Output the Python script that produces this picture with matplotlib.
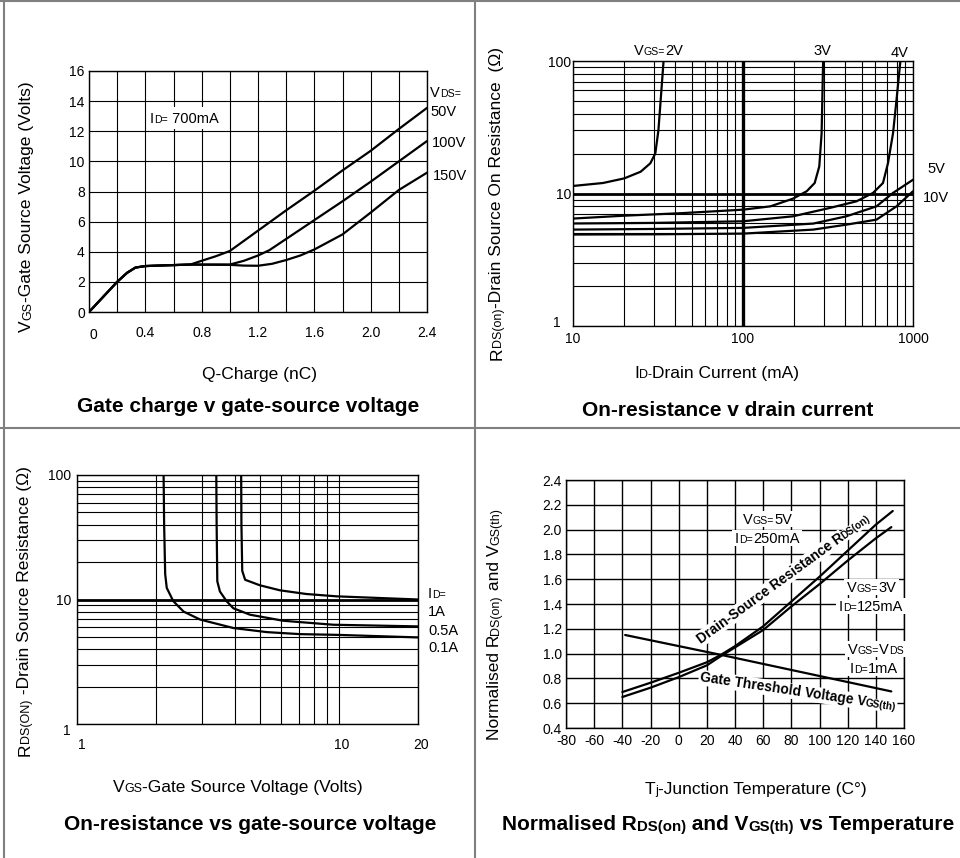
import numpy as np
import matplotlib
matplotlib.use('Agg')
import matplotlib.pyplot as plt
from matplotlib.lines import Line2D
from matplotlib.patches import Rectangle
from matplotlib.ticker import MultipleLocator, LogLocator, NullFormatter, FormatStrFormatter

plt.rcParams['font.family'] = ['Liberation Sans', 'DejaVu Sans']
plt.rcParams['axes.unicode_minus'] = False

# ---------------- data ----------------
# gate charge v gate-source voltage, ID = 700mA
q_50 = [0, 0.1, 0.2, 0.27, 0.33, 0.4, 0.55, 0.72, 0.8, 0.9, 1.0, 1.2, 1.4, 1.6, 1.8, 2.0, 2.2, 2.4]
v_50 = [0, 1.0, 2.0, 2.6, 2.95, 3.05, 3.1, 3.15, 3.4, 3.7, 4.05, 5.4, 6.75, 8.05, 9.4, 10.7, 12.15, 13.55]
q_100 = [0, 0.1, 0.2, 0.27, 0.33, 0.4, 0.55, 0.72, 1.0, 1.1, 1.2, 1.28, 1.4, 1.6, 1.8, 2.0, 2.2, 2.4]
v_100 = [0, 1.0, 2.0, 2.6, 2.95, 3.05, 3.1, 3.15, 3.15, 3.4, 3.75, 4.1, 4.85, 6.1, 7.35, 8.65, 10.0, 11.35]
q_150 = [0, 0.1, 0.2, 0.27, 0.33, 0.4, 0.55, 0.72, 1.0, 1.1, 1.2, 1.3, 1.4, 1.5, 1.6, 1.8, 2.0, 2.2, 2.4]
v_150 = [0, 1.0, 2.0, 2.6, 2.95, 3.05, 3.1, 3.15, 3.13, 3.08, 3.07, 3.2, 3.45, 3.75, 4.15, 5.15, 6.6, 8.1, 9.25]
vds_labels = ['50V', '100V', '150V']

# on-resistance v drain current (mA, ohm)
id_2v = [10, 15, 20, 25, 28.5, 30.5, 31.8, 32.8, 34.1]
r_2v = [11.4, 12.0, 13.0, 14.6, 16.9, 20.1, 30, 51, 100]
id_3v = [10, 20, 43, 100, 145, 197, 237, 264, 281, 290, 296]
r_3v = [6.47, 6.8, 7.1, 7.55, 8.0, 9.15, 10.4, 12.0, 16, 28.5, 100]
id_4v = [10, 30, 100, 197, 324, 465, 582, 666, 713, 763, 800, 843]
r_4v = [5.94, 6.0, 6.17, 6.73, 7.78, 8.73, 10.1, 12.0, 17, 28.5, 51, 100]
id_5v = [10, 30, 100, 259, 406, 610, 763, 1000]
r_5v = [5.34, 5.4, 5.5, 5.93, 6.73, 8.0, 10.1, 12.7]
id_10v = [10, 30, 100, 259, 406, 610, 800, 1000]
r_10v = [4.9, 4.92, 4.98, 5.34, 5.82, 6.35, 8.0, 10.4]

# on-resistance vs gate-source voltage (V, ohm)
vgs_01 = [2.14, 2.15, 2.17, 2.2, 2.33, 2.55, 2.95, 3.95, 5.3, 7.1, 9.8, 20]
r_01 = [100, 40, 16, 12.4, 9.7, 8.0, 6.9, 5.9, 5.47, 5.27, 5.2, 4.96]
vgs_05 = [3.40, 3.41, 3.43, 3.51, 3.72, 3.95, 4.57, 6.12, 9.5, 20]
r_05 = [100, 40, 14, 11.6, 9.7, 8.5, 7.55, 6.75, 6.27, 6.08]
vgs_1 = [4.23, 4.24, 4.27, 4.38, 4.99, 5.95, 7.5, 9.8, 20]
r_1 = [100, 40, 17, 14.4, 13.0, 11.85, 11.07, 10.6, 10.0]
id_labels = ['1A', '0.5A', '0.1A']

# normalised RDS(on) and VGS(th) vs temperature
t_rds5 = [-40, -20, 0, 20, 30, 40, 60, 80, 100, 120, 140, 152]
n_rds5 = [0.69, 0.765, 0.845, 0.93, 0.99, 1.06, 1.22, 1.42, 1.62, 1.83, 2.04, 2.15]
t_rds3 = [-40, -20, 0, 20, 30, 40, 60, 80, 100, 120, 140, 151]
n_rds3 = [0.65, 0.725, 0.81, 0.905, 0.98, 1.05, 1.19, 1.38, 1.56, 1.75, 1.93, 2.02]
t_vth = [-38, 30, 151]
n_vth = [1.15, 0.99, 0.695]

# ---------------- figure ----------------
W, H = 960, 858
fig = plt.figure(figsize=(W / 100, H / 100), dpi=100)
renderer = fig.canvas.get_renderer()
S = 0.72  # size of the small "subscript" letters


def text_width(s, size, weight):
    # advance width of s in pixels (X..X trick keeps spaces)
    t1 = fig.text(0, 0, 'X' + s + 'X', fontsize=size, fontweight=weight)
    t2 = fig.text(0, 0, 'XX', fontsize=size, fontweight=weight)
    w = t1.get_window_extent(renderer).width - t2.get_window_extent(renderer).width
    t1.remove()
    t2.remove()
    return w


def rich(x, y, parts, size, weight='normal', rot=0, ha='left', bg=False):
    # x, y in pixels from top-left; y is the middle of the capitals
    widths = [text_width(s, size * k, weight) for s, k in parts]
    total = sum(widths)
    a = np.radians(rot)
    ux, uy = np.cos(a), np.sin(a)
    nx, ny = -np.sin(a), np.cos(a)
    half_cap = 0.72 * size * 100 / 72 / 2
    X, Y = x, H - y
    if ha == 'center':
        X -= ux * total / 2
        Y -= uy * total / 2
    elif ha == 'right':
        X -= ux * total
        Y -= uy * total
    x0 = X
    X -= nx * half_cap
    Y -= ny * half_cap
    box = dict(facecolor='white', edgecolor='none', pad=0.6) if bg else None
    for (s, k), w in zip(parts, widths):
        fig.text(X / W, Y / H, s, fontsize=size * k, fontweight=weight, rotation=rot,
                 rotation_mode='anchor', ha='left', va='baseline', bbox=box, zorder=3)
        X += ux * w
        Y += uy * w
    return x0, x0 + total


def white_box(x0, x1, y, h=8):
    fig.add_artist(Rectangle(((x0 - 3) / W, (H - y - h) / H), (x1 - x0 + 6) / W, 2 * h / H,
                             facecolor='white', edgecolor='none', transform=fig.transFigure, zorder=1))


def make_axes(l, t, r, b):
    ax = fig.add_axes([l / W, (H - b) / H, (r - l) / W, (b - t) / H])
    ax.set_axisbelow(True)
    ax.tick_params(which='both', length=0, labelsize=10)
    for sp in ax.spines.values():
        sp.set_linewidth(1.0)
    return ax


grid_kw = dict(color='black', linewidth=0.8)
curve_kw = dict(color='black', linewidth=1.6, solid_joinstyle='round', solid_capstyle='round')

# ---- panel 1: gate charge
ax1 = make_axes(89, 71, 427, 312)
ax1.set_xlim(0, 2.4)
ax1.set_ylim(0, 16)
ax1.xaxis.set_minor_locator(MultipleLocator(0.2))
ax1.yaxis.set_major_locator(MultipleLocator(2))
ax1.set_xticks([0, 0.4, 0.8, 1.2, 1.6, 2.0, 2.4], ['', '0.4', '0.8', '1.2', '1.6', '2.0', '2.4'])
ax1.grid(which='both', **grid_kw)
ax1.tick_params(axis='x', pad=10)
ax1.tick_params(axis='y', pad=3)
ax1.plot(q_50, v_50, **curve_kw)
ax1.plot(q_100, v_100, **curve_kw)
ax1.plot(q_150, v_150, **curve_kw)
rich(93, 334, [('0', 1)], 10, ha='center')

x0, x1 = rich(150, 118, [('I', 1), ('D=', S), (' 700mA', 1)], 10.5)
white_box(x0, x1, 118, 11)
rich(430, 92, [('V', 1), ('DS=', S)], 10.5)
for lab, (lx, ly) in zip(vds_labels, [(430, 111), (432, 142), (433, 175)]):
    rich(lx, ly, [(lab, 1)], 10.5)
rich(25, 207, [('V', 1), ('GS', S), ('-Gate Source Voltage (Volts)', 1)], 12.5, rot=90, ha='center')
rich(259, 373, [('Q-Charge (nC)', 1)], 12.5, ha='center')
rich(248, 404, [('Gate charge v gate-source voltage', 1)], 15, weight='bold', ha='center')

# ---- panel 2: on-resistance v drain current
ax2 = make_axes(573, 61, 913, 326)
ax2.set_xscale('log')
ax2.set_yscale('log')
ax2.set_xlim(10, 1000)
ax2.set_ylim(1, 100)
ax2.set_xticks([10, 100, 1000], ['10', '100', '1000'])
ax2.set_yticks([1, 10, 100], ['', '10', '100'])
ax2.xaxis.set_minor_locator(LogLocator(subs=range(2, 10)))
ax2.yaxis.set_minor_locator(LogLocator(subs=range(2, 10)))
ax2.xaxis.set_minor_formatter(NullFormatter())
ax2.yaxis.set_minor_formatter(NullFormatter())
ax2.grid(which='both', **grid_kw)
ax2.axhline(10, color='black', linewidth=2.0, zorder=1)
ax2.axvline(100, color='black', linewidth=2.4, zorder=1)
ax2.tick_params(axis='x', pad=4)
ax2.tick_params(axis='y', pad=1.5)
for xs, ys in [(id_2v, r_2v), (id_3v, r_3v), (id_4v, r_4v), (id_5v, r_5v), (id_10v, r_10v)]:
    ax2.plot(xs, ys, **curve_kw)
rich(557, 322, [('1', 1)], 10, ha='center')

rich(634, 50, [('V', 1), ('GS=', S), ('2V', 1)], 10.5)
rich(813, 50, [('3V', 1)], 10.5)
rich(891, 52, [('4V', 1)], 10.5)
rich(927, 168, [('5V', 1)], 10.5)
rich(923, 197, [('10V', 1)], 10.5)
rich(495, 203, [('R', 1), ('DS(on)', S), ('-Drain Source On Resistance  (\u03a9)', 1)], 12.5, rot=90, ha='center')
rich(717, 372, [('I', 1), ('D-', S), ('Drain Current (mA)', 1)], 12.5, ha='center')
rich(728, 409, [('On-resistance v drain current', 1)], 15, weight='bold', ha='center')

# ---- panel 3: on-resistance vs gate-source voltage
ax3 = make_axes(77, 475, 418, 724)
ax3.set_xscale('log')
ax3.set_yscale('log')
ax3.set_xlim(1, 20)
ax3.set_ylim(1, 100)
ax3.set_xticks([1, 10, 20], ['', '', ''])
ax3.set_yticks([1, 10, 100], ['', '10', '100'])
ax3.xaxis.set_minor_locator(LogLocator(subs=range(2, 10)))
ax3.yaxis.set_minor_locator(LogLocator(subs=range(2, 10)))
ax3.xaxis.set_minor_formatter(NullFormatter())
ax3.yaxis.set_minor_formatter(NullFormatter())
ax3.grid(which='both', **grid_kw)
ax3.axhline(10, color='black', linewidth=2.0, zorder=1)
ax3.tick_params(axis='y', pad=4)
for xs, ys in [(vgs_01, r_01), (vgs_05, r_05), (vgs_1, r_1)]:
    ax3.plot(xs, ys, **curve_kw)
# tick labels of this panel sit a little off their grid lines in the original
for lab, lx in [('1', 82), ('10', 342), ('20', 421)]:
    rich(lx, 744, [(lab, 1)], 10, ha='center')
rich(71, 730, [('1', 1)], 10, ha='right')

rich(428, 593, [('I', 1), ('D=', S)], 10.5)
for lab, ly in zip(id_labels, [611, 630, 647]):
    rich(428, ly, [(lab, 1)], 10.5)
rich(23, 611, [('R', 1), ('DS(ON)', S), (' -Drain Source Resistance (\u03a9)', 1)], 12.5, rot=90, ha='center')
rich(238, 786, [('V', 1), ('GS', S), ('-Gate Source Voltage (Volts)', 1)], 12.5, ha='center')
rich(250, 823, [('On-resistance vs gate-source voltage', 1)], 15, weight='bold', ha='center')

# ---- panel 4: normalised values vs temperature
ax4 = make_axes(566, 480, 904, 728)
ax4.set_xlim(-80, 160)
ax4.set_ylim(0.4, 2.4)
ax4.xaxis.set_major_locator(MultipleLocator(20))
ax4.yaxis.set_major_locator(MultipleLocator(0.2))
ax4.yaxis.set_major_formatter(FormatStrFormatter('%.1f'))
ax4.grid(which='major', color='black', linewidth=1.0)
ax4.tick_params(axis='x', pad=4)
ax4.tick_params(axis='y', pad=3)
ax4.plot(t_rds5, n_rds5, **curve_kw)
ax4.plot(t_rds3, n_rds3, **curve_kw)
ax4.plot(t_vth, n_vth, **curve_kw)

for lx, ly, parts in [(743, 519, [('V', 1), ('GS=', S), ('5V', 1)]),
                      (735, 538, [('I', 1), ('D=', S), ('250mA', 1)]),
                      (847, 587, [('V', 1), ('GS=', S), ('3V', 1)]),
                      (839, 606, [('I', 1), ('D=', S), ('125mA', 1)]),
                      (848, 649, [('V', 1), ('GS=', S), ('V', 1), ('DS', S)]),
                      (850, 668, [('I', 1), ('D=', S), ('1mA', 1)])]:
    x0, x1 = rich(lx, ly, parts, 10.5)
    white_box(x0, x1, ly)
rich(783, 578, [('Drain-Source Resistance R', 1), ('DS(on)', S)], 10, weight='bold', rot=36, ha='center', bg=True)
rich(798, 691, [('Gate Threshold Voltage V', 1), ('GS(th)', S)], 10, weight='bold', rot=-8.5, ha='center', bg=True)
rich(493, 624, [('Normalised R', 1), ('DS(on)', S), (' and V', 1), ('GS(th)', S)], 12.5, rot=90, ha='center')
rich(756, 788, [('T', 1), ('j', S), ('-Junction Temperature (C\u00b0)', 1)], 12.5, ha='center')
rich(728, 823, [('Normalised R', 1), ('DS(on)', S), (' and V', 1), ('GS(th)', S), (' vs Temperature', 1)],
     15, weight='bold', ha='center')

# ---- frame lines between the four panels
frame_kw = dict(color='#808080', linewidth=1.5, transform=fig.transFigure)
for (xa, ya), (xb, yb) in [((0, 1), (W, 1)), ((4, 0), (4, H)), ((475, 0), (475, H)), ((0, 428), (W, 428))]:
    fig.add_artist(Line2D([xa / W, xb / W], [1 - ya / H, 1 - yb / H], **frame_kw))

fig.savefig('out.png', dpi=100, facecolor='white')
